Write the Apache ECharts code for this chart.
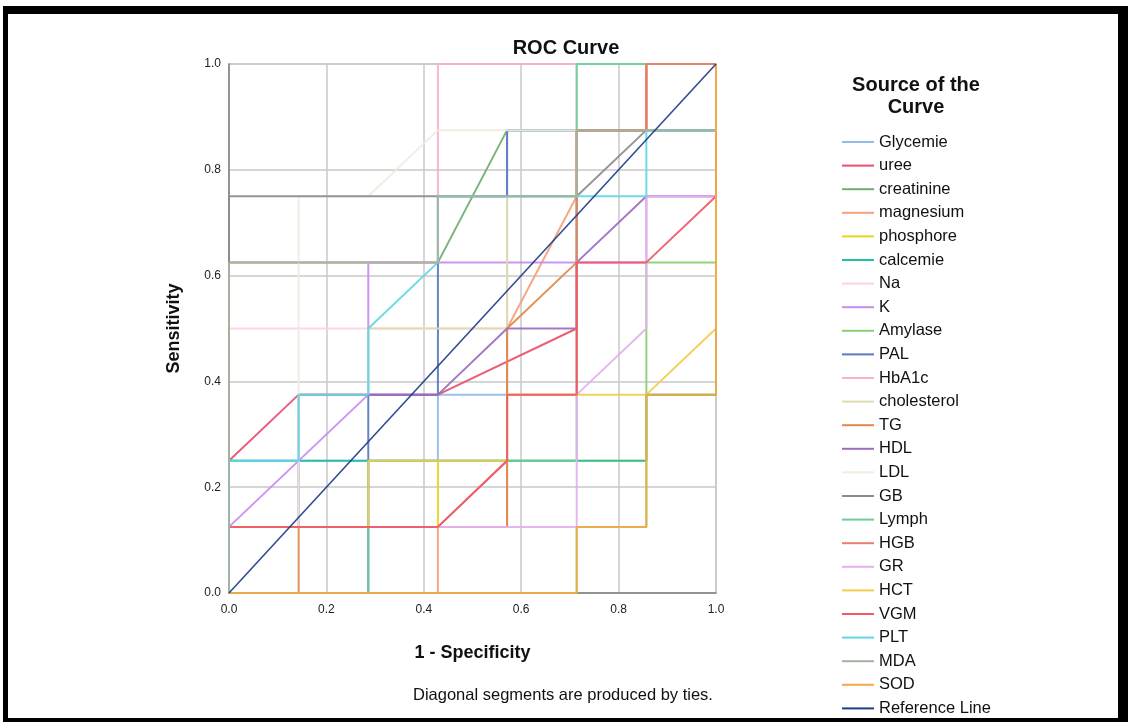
<!DOCTYPE html>
<html>
<head>
<meta charset="utf-8">
<script src="https://cdn.jsdelivr.net/npm/echarts@6/dist/echarts.min.js"></script>
<style>
html,body{margin:0;padding:0;background:#fff;}
#chart{width:1128px;height:722px;}
</style>
</head>
<body>
<div id="chart"></div>
<script>
// ---- data: [1 - specificity, sensitivity] points ----
const glycemie   = [[0,0],[0,0.25],[0.429,0.25],[0.429,0.375],[0.571,0.375],[0.571,0.875],[1,0.875],[1,1]];
const uree       = [[0,0],[0,0.25],[0.143,0.375],[0.429,0.375],[0.714,0.5],[0.714,0.875],[0.857,0.875],[0.857,1],[1,1]];
const creatinine = [[0,0],[0,0.625],[0.429,0.625],[0.571,0.875],[1,0.875],[1,1]];
const magnesium  = [[0,0],[0.429,0],[0.429,0.125],[0.571,0.125],[0.571,0.5],[0.714,0.75],[0.714,0.875],[0.857,0.875],[0.857,1],[1,1]];
const phosphore  = [[0,0],[0,0.125],[0.429,0.125],[0.429,0.25],[0.857,0.25],[0.857,0.375],[1,0.375],[1,1]];
const calcemie   = [[0,0],[0,0.25],[0.857,0.25],[0.857,0.375],[1,0.375],[1,1]];
const na         = [[0,0],[0,0.5],[0.571,0.5],[0.571,0.75],[0.714,0.75],[0.714,1],[1,1]];
const k          = [[0,0],[0,0.125],[0.286,0.375],[0.286,0.625],[0.857,0.625],[0.857,0.75],[1,0.75],[1,1]];
const amylase    = [[0,0],[0.714,0],[0.714,0.125],[0.857,0.125],[0.857,0.625],[1,0.625],[1,1]];
const pal        = [[0,0],[0.286,0],[0.286,0.375],[0.429,0.375],[0.429,0.75],[0.571,0.75],[0.571,0.875],[1,0.875],[1,1]];
const hba1c      = [[0,0],[0,0.625],[0.429,0.625],[0.429,1],[1,1]];
const cholesterol= [[0,0],[0,0.125],[0.143,0.125],[0.143,0.375],[0.286,0.375],[0.286,0.5],[0.571,0.5],[0.571,0.75],[0.714,0.75],[0.714,1],[1,1]];
const tg         = [[0,0],[0.143,0],[0.143,0.125],[0.571,0.125],[0.571,0.5],[0.714,0.625],[0.714,0.875],[0.857,0.875],[0.857,1],[1,1]];
const hdl        = [[0,0],[0,0.125],[0.143,0.125],[0.143,0.375],[0.429,0.375],[0.571,0.5],[0.714,0.5],[0.714,0.625],[0.857,0.75],[1,0.75],[1,1]];
const ldl        = [[0,0],[0,0.125],[0.143,0.125],[0.143,0.75],[0.286,0.75],[0.429,0.875],[0.714,0.875],[0.714,1],[1,1]];
const gb         = [[0,0],[0,0.75],[0.714,0.75],[0.857,0.875],[1,0.875],[1,1]];
const lymph      = [[0,0],[0.286,0],[0.286,0.25],[0.714,0.25],[0.714,1],[1,1]];
const hgb        = [[0,0],[0,0.125],[0.429,0.125],[0.571,0.25],[0.571,0.375],[0.714,0.375],[0.714,0.875],[0.857,0.875],[0.857,1],[1,1]];
const gr         = [[0,0],[0,0.125],[0.714,0.125],[0.714,0.375],[0.857,0.5],[0.857,0.75],[1,0.75],[1,1]];
const hct        = [[0,0],[0,0.125],[0.286,0.125],[0.286,0.25],[0.571,0.25],[0.571,0.375],[0.857,0.375],[1,0.5],[1,1]];
const vgm        = [[0,0],[0,0.125],[0.429,0.125],[0.571,0.25],[0.571,0.375],[0.714,0.375],[0.714,0.625],[0.857,0.625],[1,0.75],[1,1]];
const plt        = [[0,0],[0,0.25],[0.143,0.25],[0.143,0.375],[0.286,0.375],[0.286,0.5],[0.429,0.625],[0.429,0.75],[0.857,0.75],[0.857,0.875],[1,0.875],[1,1]];
const mda        = [[0,0],[0,0.625],[0.429,0.625],[0.429,0.75],[0.714,0.75],[0.714,0.875],[1,0.875],[1,1]];
const sod        = [[0,0],[0.714,0],[0.714,0.125],[0.857,0.125],[0.857,0.375],[1,0.375],[1,1]];
const referenceLine = [[0,0],[1,1]];

const seriesNames = ['Glycemie','uree','creatinine','magnesium','phosphore','calcemie','Na','K','Amylase','PAL','HbA1c','cholesterol','TG','HDL','LDL','GB','Lymph','HGB','GR','HCT','VGM','PLT','MDA','SOD','Reference Line'];
const seriesData = [glycemie,uree,creatinine,magnesium,phosphore,calcemie,na,k,amylase,pal,hba1c,cholesterol,tg,hdl,ldl,gb,lymph,hgb,gr,hct,vgm,plt,mda,sod,referenceLine];
const seriesColors = ['#92bbec','#e8506e','#6fae6f','#f7a07a','#e8d41a','#1ec0a8','#fbd3e4','#c78cf0','#88d070','#5a78c0','#f8b0cc','#dedab0','#e0884a','#9b6cc0','#efece0','#8c8c8c','#6acd9a','#e8806a','#e4b0f0','#f0cc50','#f05868','#60d8e4','#a4b4a0','#f4a848','#1f3c88'];
const axisTicks = [0, 0.2, 0.4, 0.6, 0.8, 1.0];

const FONT = "'Liberation Sans', Arial, sans-serif";
const chart = echarts.init(document.getElementById('chart'), null, {renderer:'canvas'});

const series = seriesNames.map((name, i) => ({
  name: name,
  type: 'line',
  data: seriesData[i],
  symbol: 'none',
  clip: false,
  animation: false,
  z: 3,
  lineStyle: {color: seriesColors[i], width: i === seriesNames.length - 1 ? 1.6 : 2, opacity: 0.92},
  itemStyle: {color: seriesColors[i]},
  emphasis: {disabled: true}
}));

chart.setOption({
  animation: false,
  backgroundColor: '#ffffff',
  textStyle: {fontFamily: FONT},
  title: {
    text: 'ROC Curve',
    left: 561, top: 33, textAlign: 'center',
    textStyle: {fontFamily: FONT, fontSize: 20, fontWeight: 'bold', color: '#111'}
  },
  grid: {left: 229, top: 64, width: 487, height: 529, show: true, borderColor: '#c8c8c8', borderWidth: 1.5},
  xAxis: {
    type: 'value', min: 0, max: 1, interval: 0.2,
    name: '1 - Specificity', nameLocation: 'middle', nameGap: 51,
    nameTextStyle: {fontFamily: FONT, fontSize: 18, fontWeight: 'bold', color: '#111'},
    axisLine: {show: true, lineStyle: {color: '#808080', width: 1.5}},
    axisTick: {show: false},
    splitLine: {show: true, lineStyle: {color: '#c8c8c8', width: 1.5}},
    axisLabel: {fontFamily: FONT, fontSize: 12, color: '#222', margin: 11,
      formatter: v => axisTicks.includes(Math.round(v*10)/10) ? v.toFixed(1) : ''}
  },
  yAxis: {
    type: 'value', min: 0, max: 1, interval: 0.2,
    name: 'Sensitivity', nameLocation: 'middle', nameGap: 46, nameRotate: 90,
    nameTextStyle: {fontFamily: FONT, fontSize: 18, fontWeight: 'bold', color: '#111'},
    axisLine: {show: true, lineStyle: {color: '#808080', width: 1.5}},
    axisTick: {show: false},
    splitLine: {show: true, lineStyle: {color: '#c8c8c8', width: 1.5}},
    axisLabel: {fontFamily: FONT, fontSize: 12, color: '#222', margin: 8,
      formatter: v => v.toFixed(1)}
  },
  legend: {
    data: seriesNames,
    orient: 'vertical',
    left: 842, top: 133.5, height: 585, width: 270,
    padding: 0,
    icon: 'rect',
    itemWidth: 32, itemHeight: 2, itemGap: 6.6,
    selectedMode: false,
    textStyle: {fontFamily: FONT, fontSize: 16.5, color: '#111'}
  },
  graphic: [
    {type:'text', style:{x: 916, y: 85, text:'Source of the', font:'bold 20px ' + FONT, fill:'#111', textAlign:'center', textVerticalAlign:'middle'}},
    {type:'text', style:{x: 916, y: 107, text:'Curve', font:'bold 20px ' + FONT, fill:'#111', textAlign:'center', textVerticalAlign:'middle'}},
    {type:'text', style:{x: 413, y: 695, text:'Diagonal segments are produced by ties.', font:'16.5px ' + FONT, fill:'#111', textVerticalAlign:'middle'}},
    {type:'rect', shape:{x:3, y:6, width:1125, height:8}, style:{fill:'#000'}},
    {type:'rect', shape:{x:3, y:6, width:5, height:716}, style:{fill:'#000'}},
    {type:'rect', shape:{x:1118, y:6, width:10, height:716}, style:{fill:'#000'}},
    {type:'rect', shape:{x:3, y:718, width:1125, height:4}, style:{fill:'#000'}}
  ],
  series: series
});
</script>
</body>
</html>
